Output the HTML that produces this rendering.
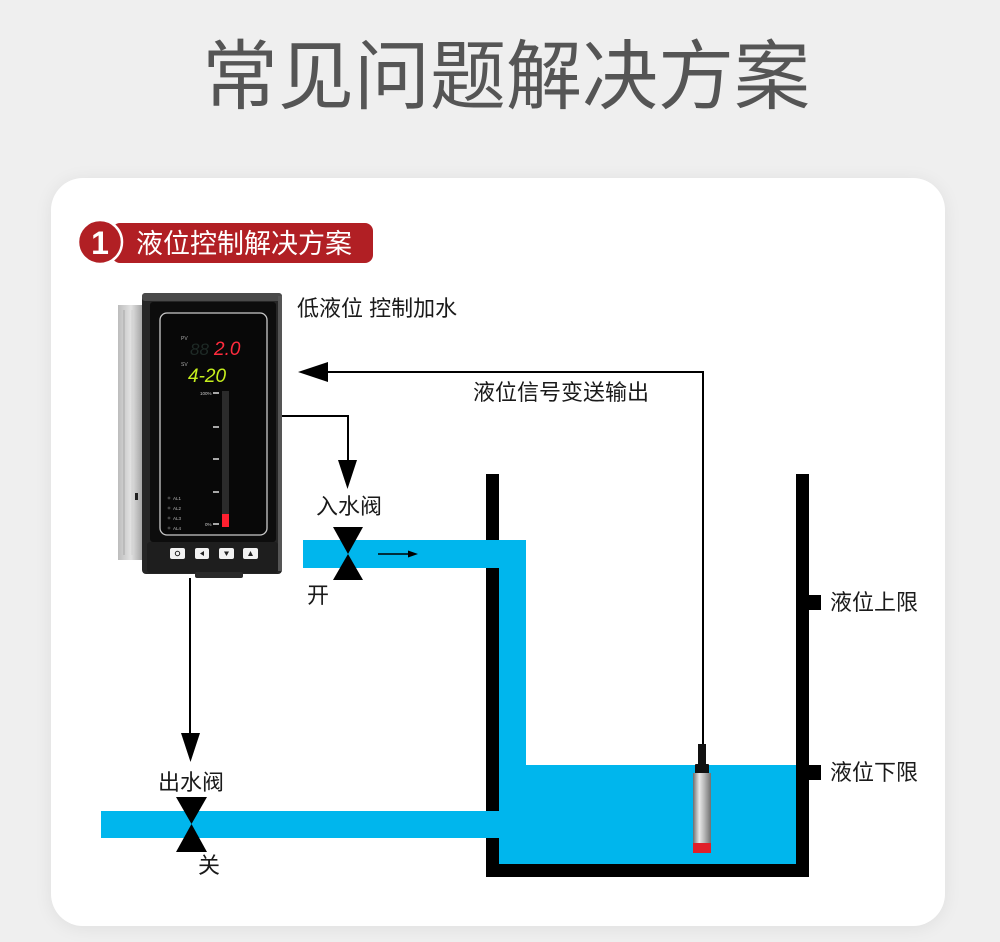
<!DOCTYPE html>
<html>
<head>
<meta charset="utf-8">
<style>
  html,body{margin:0;padding:0;}
  body{width:1000px;height:942px;background:#efefef;position:relative;overflow:hidden;
    font-family:"Liberation Sans","Noto Sans CJK SC",sans-serif;}
  .card{position:absolute;left:51px;top:178px;width:894px;height:748px;background:#fff;border-radius:32px;
    box-shadow:0 2px 18px rgba(0,0,0,0.07);}
  svg{position:absolute;left:0;top:0;}
  text{font-family:"Liberation Sans","Noto Sans CJK SC",sans-serif;}
</style>
</head>
<body>
<div class="card"></div>
<svg width="1000" height="942" viewBox="0 0 1000 942" xmlns="http://www.w3.org/2000/svg">
  <defs>
    <linearGradient id="side" x1="0" y1="0" x2="1" y2="0">
      <stop offset="0" stop-color="#bdbdbd"/>
      <stop offset="0.5" stop-color="#e2e2e2"/>
      <stop offset="1" stop-color="#9a9a9a"/>
    </linearGradient>
    <linearGradient id="steel" x1="0" y1="0" x2="1" y2="0">
      <stop offset="0" stop-color="#6d6d6d"/>
      <stop offset="0.35" stop-color="#e8e8e8"/>
      <stop offset="0.6" stop-color="#bdbdbd"/>
      <stop offset="1" stop-color="#707070"/>
    </linearGradient>
  </defs>

  <!-- Title -->
  <text x="506" y="103" font-size="76" fill="#555555" text-anchor="middle">常见问题解决方案</text>

  <!-- Badge -->
  <rect x="112" y="223" width="261" height="40" rx="8" fill="#b11f24"/>
  <circle cx="100" cy="242" r="22" fill="#b11f24" stroke="#ffffff" stroke-width="2.5"/>
  <text x="100" y="254" font-size="32" font-weight="bold" fill="#ffffff" text-anchor="middle">1</text>
  <text x="136" y="253" font-size="27" fill="#ffffff">液位控制解决方案</text>

  <!-- Controller -->
  <rect x="118" y="305" width="26" height="255" fill="url(#side)"/>
  <line x1="124" y1="310" x2="124" y2="555" stroke="#a8a8a8" stroke-width="1"/>
  <line x1="132" y1="310" x2="132" y2="555" stroke="#cfcfcf" stroke-width="1"/>
  <rect x="135" y="493" width="3" height="7" fill="#222"/>
  <rect x="142" y="293" width="140" height="281" rx="4" fill="#262626"/>
  <rect x="142" y="293" width="140" height="8" rx="3" fill="#4a4a4a"/>
  <rect x="278" y="296" width="4" height="275" fill="#555"/>
  <rect x="150" y="302" width="126" height="240" rx="3" fill="#0d0d0d"/>
  <rect x="160" y="313" width="107" height="222" rx="7" fill="#080808" stroke="#c9c9c9" stroke-width="1.3"/>
  <rect x="147" y="542" width="131" height="31" rx="3" fill="#1e1e1e"/>
  <rect x="195" y="572" width="48" height="6" rx="2" fill="#2a2a2a"/>
  <!-- display text -->
  <text x="181" y="340" font-size="5" fill="#aaa">PV</text>
  <text x="190" y="355" font-size="17" font-style="italic" font-family="Liberation Mono, monospace" fill="#1e2a26">88</text>
  <text x="214" y="355" font-size="19" font-style="italic" font-family="Liberation Mono, monospace" fill="#ff2b3d">2.0</text>
  <text x="181" y="366" font-size="5" fill="#aaa">SV</text>
  <text x="188" y="382" font-size="19" font-style="italic" font-family="Liberation Mono, monospace" fill="#c6ef1d">4-20</text>
  <!-- bar graph -->
  <rect x="222" y="391" width="7" height="136" fill="#2b2b2b"/>
  <rect x="222" y="514" width="7" height="13" fill="#ff2030"/>
  <g stroke="#dddddd" stroke-width="1.5">
    <line x1="213" y1="393" x2="219" y2="393"/>
    <line x1="213" y1="427" x2="219" y2="427"/>
    <line x1="213" y1="459" x2="219" y2="459"/>
    <line x1="213" y1="492" x2="219" y2="492"/>
    <line x1="213" y1="524" x2="219" y2="524"/>
  </g>
  <text x="200" y="395" font-size="4.5" fill="#ccc">100%</text>
  <text x="205" y="526" font-size="4.5" fill="#ccc">0%</text>
  <g font-size="4.5" fill="#bbb">
    <circle cx="169" cy="498" r="1.4" fill="#444"/><text x="173" y="500">AL1</text>
    <circle cx="169" cy="508" r="1.4" fill="#444"/><text x="173" y="510">AL2</text>
    <circle cx="169" cy="518" r="1.4" fill="#444"/><text x="173" y="520">AL3</text>
    <circle cx="169" cy="528" r="1.4" fill="#444"/><text x="173" y="530">AL4</text>
  </g>
  <g fill="#f2f2f2">
    <rect x="170" y="548" width="15" height="11" rx="2"/>
    <rect x="195" y="548" width="14" height="11" rx="2"/>
    <rect x="219" y="548" width="15" height="11" rx="2"/>
    <rect x="243" y="548" width="15" height="11" rx="2"/>
  </g>
  <g fill="#222">
    <circle cx="177.5" cy="553.5" r="2.2" fill="none" stroke="#222" stroke-width="1"/>
    <polygon points="200,553.5 204,551 204,556"/>
    <polygon points="224,551.5 229,551.5 226.5,556"/>
    <polygon points="248,556 253,556 250.5,551"/>
  </g>

  <!-- Labels -->
  <g font-size="22" fill="#1a1a1a">
    <text x="297" y="316">低液位 控制加水</text>
    <text x="473" y="400">液位信号变送输出</text>
    <text x="316" y="514">入水阀</text>
    <text x="307" y="603">开</text>
    <text x="158" y="790">出水阀</text>
    <text x="198" y="873">关</text>
    <text x="830" y="610">液位上限</text>
    <text x="830" y="780">液位下限</text>
  </g>

  <!-- Connectors -->
  <g stroke="#000" stroke-width="2" fill="none">
    <polyline points="703,745 703,372 326,372"/>
    <polyline points="282,416 348,416 348,462"/>
    <line x1="190" y1="578" x2="190" y2="735"/>
  </g>
  <polygon points="298,372 328,362 328,382" fill="#000"/>
  <polygon points="338,460 357,460 347.5,489" fill="#000"/>
  <polygon points="181,733 200,733 190.5,762" fill="#000"/>

  <!-- Pipes -->
  <g fill="#00b6ed">
    <rect x="303" y="540" width="223" height="28"/>
    <rect x="499" y="540" width="27" height="230"/>
    <rect x="499" y="765" width="297" height="99"/>
    <rect x="101" y="811" width="400" height="27"/>
  </g>

  <!-- Tank walls -->
  <g fill="#000">
    <rect x="486" y="474" width="13" height="66"/>
    <rect x="486" y="568" width="13" height="243"/>
    <rect x="486" y="838" width="13" height="39"/>
    <rect x="486" y="864" width="323" height="13"/>
    <rect x="796" y="474" width="13" height="403"/>
    <rect x="809" y="595" width="12" height="15"/>
    <rect x="809" y="765" width="12" height="15"/>
  </g>

  <!-- Flow arrow -->
  <line x1="378" y1="554" x2="410" y2="554" stroke="#000" stroke-width="1.5"/>
  <polygon points="418,554 408,550.5 408,557.5" fill="#000"/>

  <!-- Valves -->
  <g fill="#000">
    <polygon points="333,527 363,527 348,554"/>
    <polygon points="333,580 363,580 348,554"/>
    <polygon points="176,797 207,797 191.5,824"/>
    <polygon points="176,852 207,852 191.5,824"/>
  </g>

  <!-- Probe -->
  <rect x="698" y="744" width="8" height="22" fill="#111"/>
  <rect x="695" y="764" width="14" height="10" rx="1" fill="#111"/>
  <rect x="693" y="773" width="18" height="71" fill="url(#steel)"/>
  <rect x="693" y="843" width="18" height="10" fill="#e0202a"/>
</svg>
</body>
</html>
